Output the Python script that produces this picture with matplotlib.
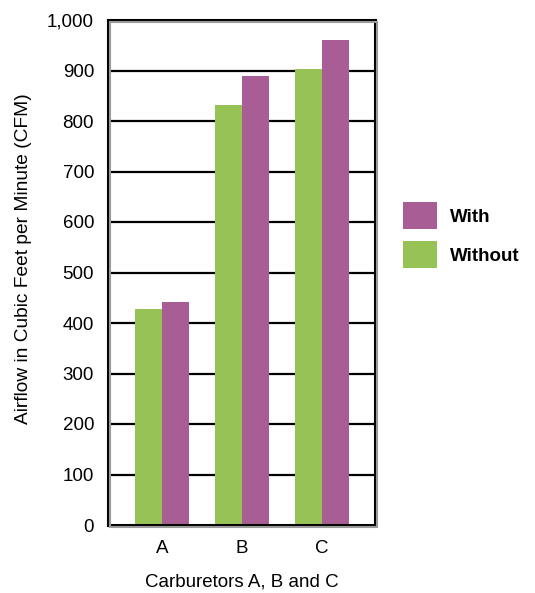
import matplotlib
matplotlib.use("Agg")
import matplotlib.pyplot as plt
import numpy as np
from matplotlib.patches import Rectangle

plt.rcParams['font.family'] = ['Liberation Sans', 'DejaVu Sans']

categories = ["A", "B", "C"]
with_vals = [442, 889, 960]
without_vals = [428, 831, 902]
y_ticks = [0, 100, 200, 300, 400, 500, 600, 700, 800, 900, 1000]
y_tick_labels = ["0", "100", "200", "300", "400", "500", "600", "700", "800", "900", "1,000"]
series_names = ["With", "Without"]

green = "#97C356"
purple = "#A85E95"
fs = 13.5

W, H = 535, 593
fig = plt.figure(figsize=(W / 100, H / 100), dpi=100)
ax = fig.add_axes([108 / W, 1 - 525 / H, 267 / W, 505 / H])

x = np.arange(len(categories))
w = 0.34
ax.bar(x - w / 2, without_vals, w, color=green, zorder=3)
ax.bar(x + w / 2, with_vals, w, color=purple, zorder=3)

ax.set_xlim(-0.675, 2.66)
ax.set_ylim(0, 1000)
ax.set_yticks(y_ticks)
ax.set_yticklabels(y_tick_labels)
ax.set_xticks(x)
ax.set_xticklabels(categories)
ax.tick_params(axis='both', length=0, labelsize=fs)
ax.tick_params(axis='y', pad=10)
ax.tick_params(axis='x', pad=11)

for v in y_ticks[1:-1]:
    ax.axhline(v, color="black", lw=1.6, zorder=1)

for s in ax.spines.values():
    s.set_linewidth(2.2)
    s.set_color("black")
    s.set_zorder(4)

# soft drop shadow under the plot frame
shadow = Rectangle((110 / W, 1 - 527 / H), 267 / W, 505 / H,
                   transform=fig.transFigure, facecolor="none",
                   edgecolor="#9a9a9a", lw=1.5, zorder=0)
fig.patches.append(shadow)

ax.set_xlabel("Carburetors A, B and C", fontsize=fs, labelpad=12)
fig.text(24 / W, 1 - 259 / H, "Airflow in Cubic Feet per Minute (CFM)",
         rotation=90, ha="center", va="center", fontsize=13.8)

# legend: swatch + bold label per series
legend_colors = [purple, green]
for i, (name, col) in enumerate(zip(series_names, legend_colors)):
    top = 202 + i * 39
    fig.patches.append(Rectangle((403 / W, 1 - (top + 27) / H), 34 / W, 27 / H,
                                 transform=fig.transFigure, facecolor=col,
                                 edgecolor="none"))
    fig.text(450 / W, 1 - (top + 13.5) / H, name, ha="left", va="center_baseline",
             fontsize=fs, fontweight="bold")

fig.savefig("out.png", dpi=100)
